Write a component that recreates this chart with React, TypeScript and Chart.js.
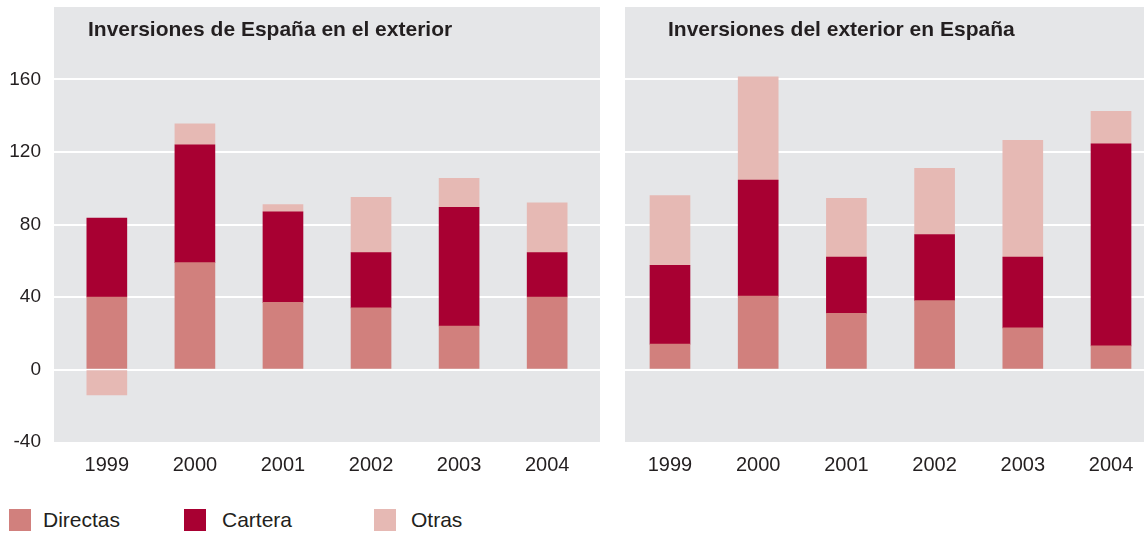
import React, { useEffect, useRef } from "react";
import { Chart, registerables } from "chart.js";

Chart.register(...registerables);

const years = ["1999", "2000", "2001", "2002", "2003", "2004"];
const seriesNames = ["Directas", "Cartera", "Otras"];
const panelTitles = ["Inversiones de España en el exterior", "Inversiones del exterior en España"];

// Inversiones de España en el exterior
const outDirectas = [40, 59, 37, 34, 24, 40];
const outCartera = [43.5, 65, 50, 30.5, 65.5, 24.5];
const outOtras = [-14, 11.5, 4, 30.5, 16, 27.5];

// Inversiones del exterior en España
const inDirectas = [14, 40.5, 31, 38, 23, 13];
const inCartera = [43.5, 64, 31, 36.5, 39, 111.5];
const inOtras = [38.5, 57, 32.5, 36.5, 64.5, 18];

const yTicks = [-40, 0, 40, 80, 120, 160];

const COLORS = ["#d1807d", "#a80032", "#e6b9b4"];
const PANEL_BG = "#e5e6e8";
const TEXT = "#231f20";
const FONT = "'Liberation Sans', Arial, sans-serif";

function makeConfig(series: number[][], showY: boolean, xMin: number, xMax: number): any {
  return {
    type: "bar",
    data: {
      datasets: series.map((vals, k) => ({
        label: seriesNames[k],
        data: vals.map((v, i) => ({ x: i, y: v })),
        backgroundColor: COLORS[k],
        borderWidth: 0,
        barThickness: 40,
      })),
    },
    options: {
      animation: false,
      responsive: false,
      devicePixelRatio: 1,
      layout: { padding: { top: 7, left: 0, right: 0, bottom: 0 } },
      plugins: { legend: { display: false }, tooltip: { enabled: false }, title: { display: false } },
      scales: {
        x: {
          type: "linear",
          stacked: true,
          offset: false,
          min: xMin,
          max: xMax,
          grid: { display: false, drawTicks: false, offset: false },
          border: { display: false },
          afterBuildTicks: (s: any) => {
            s.ticks = years.map((_, i) => ({ value: i }));
          },
          afterFit: (s: any) => {
            s.height = 38;
            s.paddingLeft = 0;
            s.paddingRight = 0;
          },
          ticks: {
            padding: 11,
            color: TEXT,
            font: { size: 20, family: FONT },
            maxRotation: 0,
            autoSkip: false,
            callback: (v: any) => years[v] ?? "",
          },
        },
        y: {
          stacked: true,
          min: -40,
          max: 200,
          afterBuildTicks: (s: any) => {
            s.ticks = [...yTicks, 200].map((v) => ({ value: v }));
          },
          afterFit: (s: any) => {
            s.width = showY ? 54 : 0;
            s.paddingTop = 0;
            s.paddingBottom = 0;
          },
          grid: {
            drawTicks: false,
            lineWidth: 2,
            color: (ctx: any) => {
              const v = ctx.tick ? ctx.tick.value : 0;
              return v === -40 || v === 200 ? "rgba(0,0,0,0)" : "#ffffff";
            },
          },
          border: { display: false },
          ticks: {
            display: showY,
            padding: 13,
            color: TEXT,
            font: { size: 19, family: FONT },
            callback: (v: any) => (v === 200 ? "" : String(v)),
          },
        },
      },
    },
  };
}

function ChartCanvas({ config, style, width, height }: any) {
  const ref = useRef<HTMLCanvasElement | null>(null);
  useEffect(() => {
    if (!ref.current) return;
    const chart = new Chart(ref.current, config);
    return () => chart.destroy();
  }, []);
  return <canvas ref={ref} width={width} height={height} style={{ position: "absolute", width, height, ...style }} />;
}

export default function App() {
  const titleStyle: React.CSSProperties = {
    position: "absolute",
    top: 18,
    fontFamily: FONT,
    fontWeight: "bold",
    fontSize: 21,
    lineHeight: "21px",
    color: TEXT,
    whiteSpace: "nowrap",
  };
  const legendX = [9, 184, 374];
  const legendTextX = [43, 222, 411];
  return (
    <div
      style={{
        position: "fixed",
        left: 0,
        top: 0,
        width: 1144,
        height: 533,
        overflow: "hidden",
        background: "#ffffff",
      }}
    >
      <div style={{ position: "absolute", left: 54, top: 7, width: 546, height: 435, background: PANEL_BG }} />
      <div style={{ position: "absolute", left: 625, top: 7, width: 531, height: 435, background: PANEL_BG }} />
      <ChartCanvas
        config={makeConfig([outDirectas, outCartera, outOtras], true, -0.6, 5.6)}
        width={600}
        height={480}
        style={{ left: 0, top: 0 }}
      />
      <ChartCanvas
        config={makeConfig([inDirectas, inCartera, inOtras], false, -0.51, 5.51)}
        width={531}
        height={480}
        style={{ left: 625, top: 0 }}
      />
      <div style={{ ...titleStyle, left: 88 }}>{panelTitles[0]}</div>
      <div style={{ ...titleStyle, left: 668 }}>{panelTitles[1]}</div>
      {seriesNames.map((name, k) => (
        <React.Fragment key={name}>
          <div
            style={{
              position: "absolute",
              left: legendX[k],
              top: 509,
              width: 22,
              height: 22,
              background: COLORS[k],
            }}
          />
          <div
            style={{
              position: "absolute",
              left: legendTextX[k],
              top: 509,
              fontFamily: FONT,
              fontSize: 21,
              lineHeight: "21px",
              color: TEXT,
              whiteSpace: "nowrap",
            }}
          >
            {name}
          </div>
        </React.Fragment>
      ))}
    </div>
  );
}
